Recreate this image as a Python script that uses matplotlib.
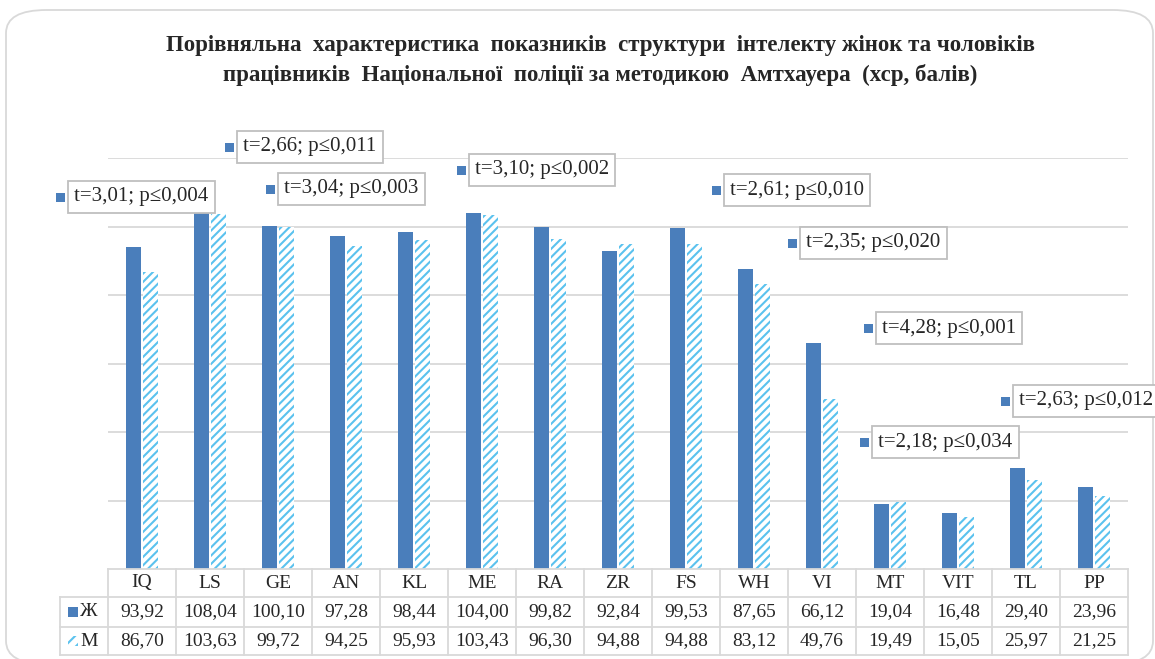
import numpy as np
import matplotlib.pyplot as plt
from matplotlib.patches import Rectangle, FancyBboxPatch

# Дані
categories = ["IQ", "LS", "GE", "AN", "KL", "ME", "RA", "ZR", "FS", "WH", "VI", "MT", "VIT", "TL", "PP"]
women = [93.92, 108.04, 100.10, 97.28, 98.44, 104.00, 99.82, 92.84, 99.53, 87.65, 66.12, 19.04, 16.48, 29.40, 23.96]
men = [86.70, 103.63, 99.72, 94.25, 95.93, 103.43, 96.30, 94.88, 94.88, 83.12, 49.76, 19.49, 15.05, 25.97, 21.25]
stat_labels = ["t=3,01; p≤0,004", "t=2,66; p≤0,011", "t=3,04; p≤0,003", "t=3,10; p≤0,002",
               "t=2,61; p≤0,010", "t=2,35; p≤0,020", "t=4,28; p≤0,001", "t=2,63; p≤0,012",
               "t=2,18; p≤0,034"]
# положення підписів (пікселі: лівий край маркера, центр по вертикалі)
stat_pos = [(56, 197), (225, 147), (266, 189), (457, 170), (712, 190),
            (788, 243), (864, 328), (1001, 401), (860, 442)]

W, H = 1155, 659
c_w = "#4A7EBB"
c_m = "#5BC2EE"
grid_c = "#D9D9D9"
txt_c = "#262626"
serif = ["Liberation Serif", "DejaVu Serif"]
plt.rcParams["hatch.linewidth"] = 1.5

fig = plt.figure(figsize=(W / 100, H / 100), dpi=100)

# рамка діаграми
fig.patches.append(FancyBboxPatch((6 / W, (H - 664) / H), 1147 / W, 654 / H,
                                  boxstyle="round,pad=0,rounding_size=0.035",
                                  transform=fig.transFigure, fc="white", ec=grid_c, lw=1.3,
                                  zorder=-5))

ax_l, ax_r, ax_b, ax_t = 108, 1128, 569, 158
ax = fig.add_axes([ax_l / W, 1 - ax_b / H, (ax_r - ax_l) / W, (ax_b - ax_t) / H])
ax.set_facecolor("none")

x = np.arange(len(categories))
bw = 0.225
ax.bar(x - bw / 2 - 0.01, women, bw, color=c_w, zorder=3)
ax.bar(x + bw / 2 + 0.01, men, bw, color="white", edgecolor=c_m, hatch="////", lw=0, zorder=3)

ax.set_xlim(-0.5, len(categories) - 0.5)
ax.set_ylim(0, 120)
ax.set_yticks(np.arange(20, 121, 20))
ax.yaxis.grid(True, color=grid_c, lw=1.3)
ax.set_axisbelow(True)
ax.tick_params(left=False, bottom=False, labelleft=False, labelbottom=False)
for s in ax.spines.values():
    s.set_visible(False)


def fx(px):
    return px / W


def fy(py):
    return 1 - py / H


# таблиця даних
rows = [569, 597, 627, 655]
col_x = [ax_l + (ax_r - ax_l) / len(categories) * k for k in range(len(categories) + 1)]
cw = col_x[1] - col_x[0]
for i, py in enumerate(rows):
    left = ax_l if i == 0 else 60
    fig.add_artist(plt.Line2D([fx(left), fx(ax_r)], [fy(py), fy(py)], color=grid_c, lw=1.3))
for px in col_x:
    fig.add_artist(plt.Line2D([fx(px), fx(px)], [fy(569), fy(655)], color=grid_c, lw=1.3))
fig.add_artist(plt.Line2D([fx(60), fx(60)], [fy(597), fy(655)], color=grid_c, lw=1.3))

fs_tab = 14
for k, cat in enumerate(categories):
    cx = fx(col_x[k] + cw / 2)
    fig.text(cx, fy(583), cat, ha="center", va="center", fontsize=fs_tab, family=serif, color=txt_c)
    fig.text(cx, fy(612), f"{women[k]:.2f}".replace(".", ","), ha="center", va="center",
             fontsize=fs_tab, family=serif, color=txt_c)
    fig.text(cx, fy(641), f"{men[k]:.2f}".replace(".", ","), ha="center", va="center",
             fontsize=fs_tab, family=serif, color=txt_c)

# ключі легенди в таблиці
fig.patches.append(Rectangle((fx(68), fy(617)), 10 / W, 10 / H, transform=fig.transFigure,
                             fc=c_w, ec="none"))
fig.patches.append(Rectangle((fx(68), fy(646)), 10 / W, 10 / H, transform=fig.transFigure,
                             fc="white", ec=c_m, hatch="///", lw=0))
fig.text(fx(80), fy(612), "Ж", ha="left", va="center", fontsize=fs_tab, family=serif, color=txt_c)
fig.text(fx(80), fy(641), "M", ha="left", va="center", fontsize=fs_tab, family=serif, color=txt_c)

# підписи зі статистикою
for lab, (px, py) in zip(stat_labels, stat_pos):
    fig.patches.append(Rectangle((fx(px), fy(py + 5)), 9 / W, 9 / H, transform=fig.transFigure,
                                 fc=c_w, ec="none", zorder=5))
    fig.text(fx(px + 18), fy(py), lab, ha="left", va="center", fontsize=15, family=serif,
             color=txt_c, zorder=6,
             bbox=dict(boxstyle="square,pad=0.3", fc="white", ec="#BFBFBF", lw=1.3))

# заголовок
fig.text(fx(600), fy(45), "Порівняльна  характеристика  показників  структури  інтелекту жінок та чоловіків",
         ha="center", va="center", fontsize=16.5, fontweight="bold", family=serif, color=txt_c)
fig.text(fx(600), fy(75), "працівників  Національної  поліції за методикою  Амтхауера  (хср, балів)",
         ha="center", va="center", fontsize=16.5, fontweight="bold", family=serif, color=txt_c)

fig.savefig("out.png", dpi=100)
